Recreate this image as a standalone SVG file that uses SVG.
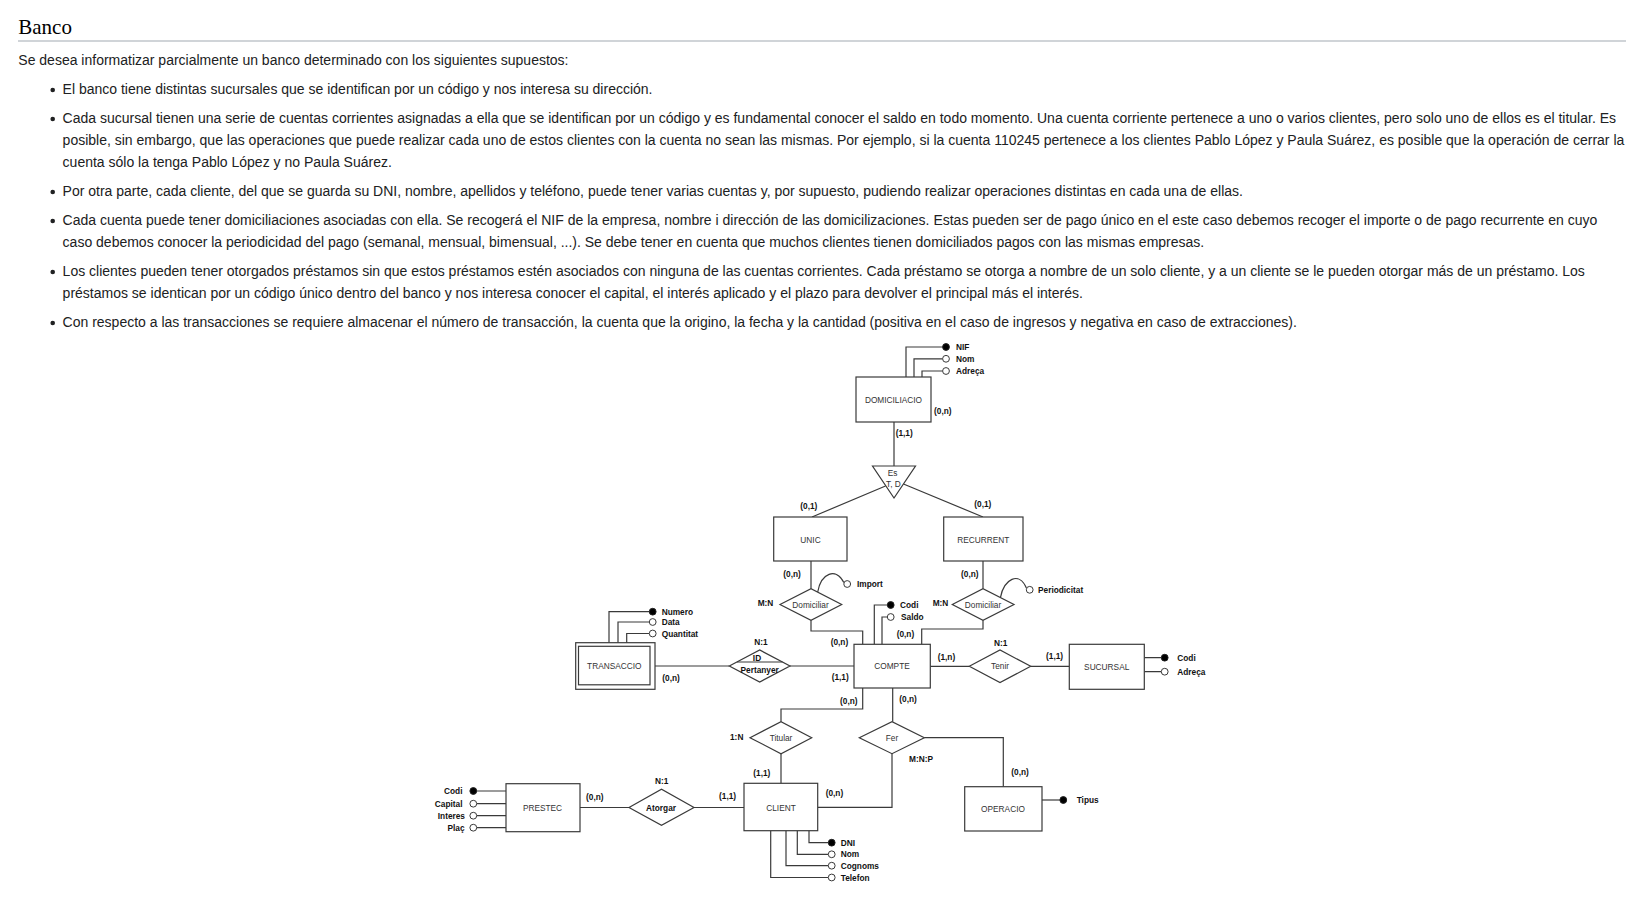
<svg xmlns="http://www.w3.org/2000/svg" width="1637" height="909" viewBox="0 0 1637 909">
<style>
.h{font-family:"Liberation Serif","Times New Roman",serif;font-size:21px;fill:#000}
.p{font-family:"Liberation Sans",Arial,sans-serif;font-size:14px;fill:#202122}
.dot{fill:#202122}
.ln{fill:none;stroke:#3a3a3a;stroke-width:1.2}
.box{fill:#fff;stroke:#3a3a3a;stroke-width:1.2}
.nm{font-family:"Liberation Sans",Arial,sans-serif;font-size:8.3px;fill:#333;text-anchor:middle}
.nb{font-family:"Liberation Sans",Arial,sans-serif;font-size:8.3px;font-weight:bold;fill:#111;text-anchor:middle}
.lb{font-family:"Liberation Sans",Arial,sans-serif;font-size:8.3px;font-weight:bold;fill:#111}
.end{text-anchor:end}
.key{fill:#000;stroke:#222;stroke-width:1}
.att{fill:#fff;stroke:#3a3a3a;stroke-width:1}
</style>

<!-- page heading and statement -->
<g id="statement">
<text class="h" x="18.3" y="33.5">Banco</text>
<rect x="18" y="40.5" width="1608" height="1" fill="#a2a9b1"/>
<text class="p" x="18.3" y="64.5">Se desea informatizar parcialmente un banco determinado con los siguientes supuestos:</text>
<circle class="dot" cx="52.7" cy="90" r="2.3"/>
<text class="p" x="62.6" y="93.5">El banco tiene distintas sucursales que se identifican por un código y nos interesa su dirección.</text>
<circle class="dot" cx="52.7" cy="119" r="2.3"/>
<text class="p" x="62.6" y="122.5">Cada sucursal tienen una serie de cuentas corrientes asignadas a ella que se identifican por un código y es fundamental conocer el saldo en todo momento. Una cuenta corriente pertenece a uno o varios clientes, pero solo uno de ellos es el titular. Es</text>
<text class="p" x="62.6" y="144.5">posible, sin embargo, que las operaciones que puede realizar cada uno de estos clientes con la cuenta no sean las mismas. Por ejemplo, si la cuenta 110245 pertenece a los clientes Pablo López y Paula Suárez, es posible que la operación de cerrar la</text>
<text class="p" x="62.6" y="166.5">cuenta sólo la tenga Pablo López y no Paula Suárez.</text>
<circle class="dot" cx="52.7" cy="192" r="2.3"/>
<text class="p" x="62.6" y="195.5">Por otra parte, cada cliente, del que se guarda su DNI, nombre, apellidos y teléfono, puede tener varias cuentas y, por supuesto, pudiendo realizar operaciones distintas en cada una de ellas.</text>
<circle class="dot" cx="52.7" cy="221" r="2.3"/>
<text class="p" x="62.6" y="224.5">Cada cuenta puede tener domiciliaciones asociadas con ella. Se recogerá el NIF de la empresa, nombre i dirección de las domicilizaciones. Estas pueden ser de pago único en el este caso debemos recoger el importe o de pago recurrente en cuyo</text>
<text class="p" x="62.6" y="246.5">caso debemos conocer la periodicidad del pago (semanal, mensual, bimensual, ...). Se debe tener en cuenta que muchos clientes tienen domiciliados pagos con las mismas empresas.</text>
<circle class="dot" cx="52.7" cy="272" r="2.3"/>
<text class="p" x="62.6" y="275.5">Los clientes pueden tener otorgados préstamos sin que estos préstamos estén asociados con ninguna de las cuentas corrientes. Cada préstamo se otorga a nombre de un solo cliente, y a un cliente se le pueden otorgar más de un préstamo. Los</text>
<text class="p" x="62.6" y="297.5">préstamos se identican por un código único dentro del banco y nos interesa conocer el capital, el interés aplicado y el plazo para devolver el principal más el interés.</text>
<circle class="dot" cx="52.7" cy="323" r="2.3"/>
<text class="p" x="62.6" y="326.5">Con respecto a las transacciones se requiere almacenar el número de transacción, la cuenta que la origino, la fecha y la cantidad (positiva en el caso de ingresos y negativa en caso de extracciones).</text>
</g>

<!-- entity-relationship diagram -->
<g id="er-diagram" transform="translate(0,1)">
<g id="connectors">
<!-- DOMICILIACIO attributes -->
<path class="ln" d="M906 376V346H942.6M914 376V357.8H942.6M922 376V370H942.6"/>
<!-- DOMICILIACIO to generalisation triangle and subtypes -->
<path class="ln" d="M894 421V465M885.5 485L812 516M903.5 483L983 516"/>
<!-- subtypes to Domiciliar -->
<path class="ln" d="M811 560V587.7M983 560V587.7"/>
<path class="ln" d="M817.7 591C821 572 836 566 843.8 581.6"/>
<path class="ln" d="M1000.5 596.4C1004 578 1019 570 1026.4 586.9"/>
<!-- Domiciliar to COMPTE -->
<path class="ln" d="M811 619.3V630H862.7V643.3M983 619.3V628H921.7V643.3"/>
<!-- COMPTE attributes -->
<path class="ln" d="M874.3 643.3V604H887.3M882 643.3V616H887.3"/>
<!-- COMPTE - Tenir - SUCURSAL -->
<path class="ln" d="M930.3 665.3H969.3M1030.7 665.3H1069.3"/>
<path class="ln" d="M1144.3 656.7H1161.3M1144.3 670.7H1161.3"/>
<!-- TRANSACCIO - Pertanyer - COMPTE -->
<path class="ln" d="M655 665H729.3M790 665H854"/>
<path class="ln" d="M609 641.7V610.7H649.3M618 641.7V621H649.3M626.7 641.7V632.5H649.3"/>
<!-- COMPTE - Titular - CLIENT -->
<path class="ln" d="M862.7 687V708H781V720.7M781 752.7V782.3"/>
<!-- COMPTE - Fer - CLIENT / OPERACIO -->
<path class="ln" d="M892.7 687V720.7M924.3 736.7H1003.3V785.7M892 752.7V806.3H817.7"/>
<path class="ln" d="M1042 799H1059.9"/>
<!-- PRESTEC - Atorgar - CLIENT -->
<path class="ln" d="M580 806.5H629M694 806.5H744"/>
<path class="ln" d="M506 790H476.7M506 802.7H476.7M506 814.7H476.7M506 826.7H476.7"/>
<!-- CLIENT attributes -->
<path class="ln" d="M809 829.7V841.7H828.3M797.3 829.7V853.3H828.3M786 829.7V864.7H828.3M770.7 829.7V876.5H828.3"/>

<!-- cardinalities and ratios -->
<text class="lb" x="934" y="413">(0,n)</text>
<text class="lb" x="895.7" y="434.5">(1,1)</text>
<text class="lb" x="800.3" y="508">(0,1)</text>
<text class="lb" x="974.3" y="505.7">(0,1)</text>
<text class="lb" x="783.3" y="575.7">(0,n)</text>
<text class="lb" x="961" y="575.7">(0,n)</text>
<text class="lb" x="757.7" y="605">M:N</text>
<text class="lb" x="932.7" y="605">M:N</text>
<text class="lb" x="830.7" y="644">(0,n)</text>
<text class="lb" x="896.7" y="636.3">(0,n)</text>
<text class="lb" x="994" y="644.7">N:1</text>
<text class="lb" x="937.7" y="659">(1,n)</text>
<text class="lb" x="1046" y="658">(1,1)</text>
<text class="lb" x="754.3" y="643.7">N:1</text>
<text class="lb" x="662.3" y="679.7">(0,n)</text>
<text class="lb" x="831.7" y="679">(1,1)</text>
<text class="lb" x="840" y="703">(0,n)</text>
<text class="lb" x="899.3" y="701.3">(0,n)</text>
<text class="lb" x="730" y="739.3">1:N</text>
<text class="lb" x="753.3" y="774.7">(1,1)</text>
<text class="lb" x="909" y="761">M:N:P</text>
<text class="lb" x="1011.3" y="774">(0,n)</text>
<text class="lb" x="825.7" y="795">(0,n)</text>
<text class="lb" x="719" y="797.7">(1,1)</text>
<text class="lb" x="655" y="783.3">N:1</text>
<text class="lb" x="586" y="798.7">(0,n)</text>
</g>

<!-- entities -->
<g id="domiciliacio">
<rect class="box" x="856" y="376" width="75" height="45"/>
<text class="nm" x="893.5" y="402">DOMICILIACIO</text>
<circle class="key" cx="946" cy="346" r="3.4"/>
<circle class="att" cx="946" cy="357.8" r="3.4"/>
<circle class="att" cx="946" cy="370" r="3.4"/>
<text class="lb" x="956" y="349">NIF</text>
<text class="lb" x="956" y="360.8">Nom</text>
<text class="lb" x="956" y="373">Adreça</text>
</g>

<g id="es">
<polygon class="box" points="872.5,465 915.5,465 894,497"/>
<text class="nm" x="892.5" y="475">Es</text>
<text class="nm" x="893.5" y="486">T, D</text>
</g>

<g id="unic">
<rect class="box" x="773.7" y="516" width="73.3" height="44"/>
<text class="nm" x="810.5" y="541.5">UNIC</text>
</g>

<g id="recurrent">
<rect class="box" x="943.7" y="516" width="79.3" height="44"/>
<text class="nm" x="983.3" y="541.5">RECURRENT</text>
</g>

<g id="domiciliar-unic">
<polygon class="box" points="780,603.5 811,587.7 841.7,603.5 811,619.3"/>
<text class="nm" x="810.5" y="606.5">Domiciliar</text>
<circle class="att" cx="847.2" cy="583" r="3.4"/>
<text class="lb" x="857" y="586">Import</text>
</g>

<g id="domiciliar-recurrent">
<polygon class="box" points="952.3,603.5 983,587.7 1014,603.5 983,619.3"/>
<text class="nm" x="983" y="606.5">Domiciliar</text>
<circle class="att" cx="1029.7" cy="588.8" r="3.4"/>
<text class="lb" x="1038" y="592">Periodicitat</text>
</g>

<g id="compte">
<rect class="box" x="854" y="643.3" width="76.3" height="43.7"/>
<text class="nm" x="892" y="668.3">COMPTE</text>
<circle class="key" cx="890.7" cy="604" r="3.4"/>
<circle class="att" cx="890.7" cy="616" r="3.4"/>
<text class="lb" x="900" y="607">Codi</text>
<text class="lb" x="901" y="619">Saldo</text>
</g>

<g id="tenir">
<polygon class="box" points="969.3,665.3 1000,649 1030.7,665.3 1000,681.5"/>
<text class="nm" x="1000" y="668.3">Tenir</text>
</g>

<g id="sucursal">
<rect class="box" x="1069.3" y="643.3" width="75" height="45"/>
<text class="nm" x="1106.7" y="669">SUCURSAL</text>
<circle class="key" cx="1164.7" cy="656.7" r="3.4"/>
<circle class="att" cx="1164.7" cy="670.7" r="3.4"/>
<text class="lb" x="1177.3" y="659.7">Codi</text>
<text class="lb" x="1177.3" y="673.7">Adreça</text>
</g>

<g id="transaccio">
<rect class="box" x="575.7" y="641.7" width="79.3" height="46.6"/>
<rect class="box" x="578.5" y="645.3" width="71.5" height="38.5"/>
<text class="nm" x="614.3" y="668.3">TRANSACCIO</text>
<circle class="key" cx="652.7" cy="610.7" r="3.4"/>
<circle class="att" cx="652.7" cy="621" r="3.4"/>
<circle class="att" cx="652.7" cy="632.5" r="3.4"/>
<text class="lb" x="661.7" y="613.7">Numero</text>
<text class="lb" x="661.7" y="624">Data</text>
<text class="lb" x="661.7" y="635.5">Quantitat</text>
</g>

<g id="pertanyer">
<polygon class="box" points="729.3,665 759.7,649 790,665 759.7,681"/>
<path class="ln" d="M737 661H782.5"/>
<text class="nb" x="757" y="660">ID</text>
<text class="nb" x="759.7" y="672">Pertanyer</text>
</g>

<g id="titular">
<polygon class="box" points="750,736.7 781,720.7 811.7,736.7 781,752.7"/>
<text class="nm" x="781" y="739.7">Titular</text>
</g>

<g id="fer">
<polygon class="box" points="859.3,736.7 892,720.7 924.3,736.7 892,752.7"/>
<text class="nm" x="892" y="739.7">Fer</text>
</g>

<g id="operacio">
<rect class="box" x="964.7" y="785.7" width="77.3" height="44.3"/>
<text class="nm" x="1003" y="811">OPERACIO</text>
<circle class="key" cx="1063.3" cy="799" r="3.4"/>
<text class="lb" x="1076.7" y="802">Tipus</text>
</g>

<g id="client">
<rect class="box" x="744" y="782.3" width="73.7" height="47.4"/>
<text class="nm" x="781" y="809.7">CLIENT</text>
<circle class="key" cx="831.7" cy="841.7" r="3.4"/>
<circle class="att" cx="831.7" cy="853.3" r="3.4"/>
<circle class="att" cx="831.7" cy="864.7" r="3.4"/>
<circle class="att" cx="831.7" cy="876.5" r="3.4"/>
<text class="lb" x="840.7" y="844.7">DNI</text>
<text class="lb" x="840.7" y="856.3">Nom</text>
<text class="lb" x="840.7" y="867.7">Cognoms</text>
<text class="lb" x="840.7" y="879.5">Telefon</text>
</g>

<g id="atorgar">
<polygon class="box" points="629,806.5 661.5,788.3 694,806.5 661.5,824.3"/>
<text class="nb" x="661" y="809.5">Atorgar</text>
</g>

<g id="prestec">
<rect class="box" x="506" y="782.7" width="74" height="48"/>
<text class="nm" x="542.5" y="810">PRESTEC</text>
<circle class="key" cx="473.3" cy="790" r="3.4"/>
<circle class="att" cx="473.3" cy="802.7" r="3.4"/>
<circle class="att" cx="473.3" cy="814.7" r="3.4"/>
<circle class="att" cx="473.3" cy="826.7" r="3.4"/>
<text class="lb end" x="462.5" y="793">Codi</text>
<text class="lb end" x="462.5" y="805.7">Capital</text>
<text class="lb end" x="465" y="817.7">Interes</text>
<text class="lb end" x="464.5" y="829.7">Plaç</text>
</g>
</g>
</svg>
